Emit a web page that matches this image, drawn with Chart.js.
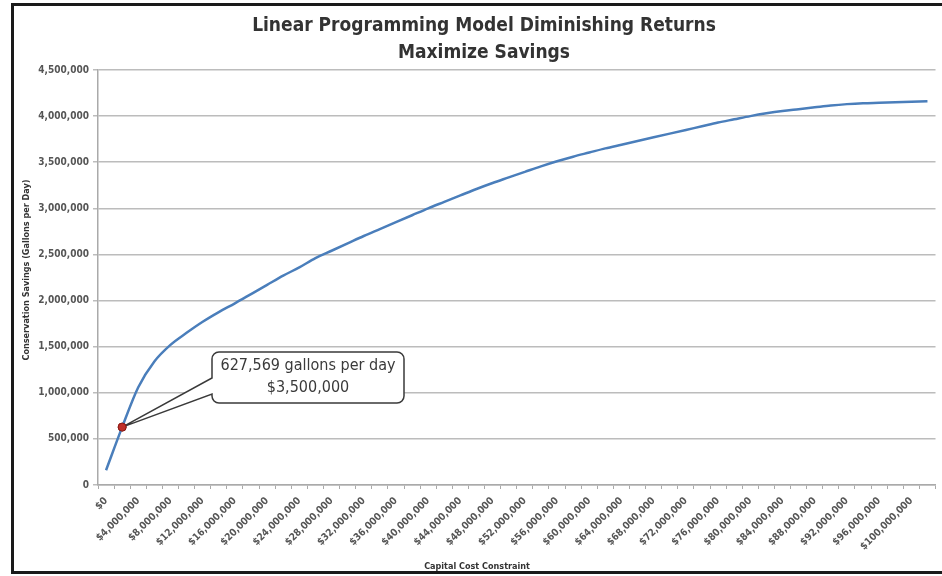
<!DOCTYPE html>
<html>
<head>
<meta charset="utf-8">
<script src="https://cdn.jsdelivr.net/npm/chart.js@4/dist/chart.umd.min.js"></script>
<style>
  html, body { margin: 0; padding: 0; background: #fff; }
  #wrap { position: relative; width: 942px; height: 576px; }
</style>
</head>
<body>
<div id="wrap"><canvas id="myChart"></canvas></div>
<script>
// capital cost constraint (categories, $)
var costs = [0, 2000000, 4000000, 6000000, 8000000, 10000000, 12000000, 14000000, 16000000, 18000000,
  20000000, 22000000, 24000000, 26000000, 28000000, 30000000, 32000000, 34000000, 36000000, 38000000,
  40000000, 42000000, 44000000, 46000000, 48000000, 50000000, 52000000, 54000000, 56000000, 58000000,
  60000000, 62000000, 64000000, 66000000, 68000000, 70000000, 72000000, 74000000, 76000000, 78000000,
  80000000, 82000000, 84000000, 86000000, 88000000, 90000000, 92000000, 94000000, 96000000, 98000000,
  100000000, 102000000];

// conservation savings (gallons per day)
var savings = [160000, 627569, 1060000, 1340000, 1520000, 1650000, 1770000, 1875000, 1970000, 2070000,
  2170000, 2270000, 2360000, 2460000, 2540000, 2620000, 2700000, 2775000, 2850000, 2925000,
  3000000, 3070000, 3140000, 3210000, 3275000, 3335000, 3395000, 3455000, 3510000, 3560000,
  3605000, 3650000, 3690000, 3730000, 3770000, 3810000, 3850000, 3890000, 3930000, 3965000,
  4000000, 4030000, 4055000, 4075000, 4095000, 4115000, 4130000, 4140000, 4145000, 4150000,
  4155000, 4160000];

// highlighted point + callout text
var markIndex = 1;
var markLines = ["627,569 gallons per day", "$3,500,000"];

var titleLines = ["Linear Programming Model Diminishing Returns", "Maximize Savings"];
var yTitle = "Conservation Savings (Gallons per Day)";
var xTitle = "Capital Cost Constraint";

var narrow = '"Liberation Sans Narrow", "DejaVu Sans Condensed", "Liberation Sans", sans-serif';

var markData = savings.map(function (v, i) { return i === markIndex ? v : null; });

function money(n) {
  return "$" + n.toLocaleString("en-US");
}

// frame, titles and callout
var decor = {
  id: "decor",
  beforeDraw: function (chart) {
    var c = chart.ctx;
    c.save();
    c.fillStyle = "#fff";
    c.fillRect(0, 0, chart.width, chart.height);
    c.restore();
  },
  afterDraw: function (chart) {
    var c = chart.ctx;
    c.save();
    // outer frame
    c.strokeStyle = "#1a1a1a";
    c.lineWidth = 3;
    c.beginPath();
    c.moveTo(942, 4.5); c.lineTo(12.5, 4.5); c.lineTo(12.5, 572.5); c.lineTo(942, 572.5);
    c.stroke();

    // chart title
    c.fillStyle = "#333";
    c.textAlign = "center";
    c.textBaseline = "middle";
    c.font = "bold 19px " + narrow;
    c.fillText(titleLines[0], 484, 26);
    c.fillText(titleLines[1], 484, 53);

    // axis titles
    c.font = "bold 9px " + narrow;
    c.fillText(xTitle, 477, 567);
    c.save();
    c.translate(27, 270);
    c.rotate(-Math.PI / 2);
    c.fillText(yTitle, 0, 0);
    c.restore();

    // callout
    var pt = chart.getDatasetMeta(1).data[markIndex];
    var bx = 212, by = 352, bw = 192, bh = 51, r = 7;
    c.beginPath();
    c.moveTo(bx + r, by);
    c.lineTo(bx + bw - r, by);
    c.arcTo(bx + bw, by, bx + bw, by + r, r);
    c.lineTo(bx + bw, by + bh - r);
    c.arcTo(bx + bw, by + bh, bx + bw - r, by + bh, r);
    c.lineTo(bx + r, by + bh);
    c.arcTo(bx, by + bh, bx, by + bh - r, r);
    c.lineTo(bx, by + 42);
    c.lineTo(pt.x, pt.y);
    c.lineTo(bx, by + 26);
    c.lineTo(bx, by + r);
    c.arcTo(bx, by, bx + r, by, r);
    c.closePath();
    c.fillStyle = "#fff";
    c.fill();
    c.strokeStyle = "#3a3a3a";
    c.lineWidth = 1.5;
    c.stroke();

    c.fillStyle = "#3a3a3a";
    c.font = "16px " + narrow;
    c.fillText(markLines[0], bx + bw / 2, by + 14);
    c.fillText(markLines[1], bx + bw / 2, by + 36);

    // redraw the marker above the pointer
    c.beginPath();
    c.arc(pt.x, pt.y, 4, 0, Math.PI * 2);
    c.fillStyle = "#c0302a";
    c.fill();
    c.strokeStyle = "#8a1c16";
    c.lineWidth = 1;
    c.stroke();
    c.restore();
  }
};

var ctx = document.getElementById("myChart");
var config = {
  type: "line",
  data: {
    labels: costs,
    datasets: [
      {
        label: "Savings",
        data: savings,
        borderColor: "#4a7ebb",
        borderWidth: 2.5,
        pointRadius: 0,
        cubicInterpolationMode: "monotone",
        fill: false
      },
      {
        label: "Selected",
        data: markData,
        borderColor: "#8a1c16",
        backgroundColor: "#c0302a",
        pointRadius: 4,
        showLine: false
      }
    ]
  },
  options: {
    responsive: true,
    maintainAspectRatio: false,
    animation: false,
    layout: {
      padding: { top: 70, left: 16, right: 0, bottom: 4 }
    },
    plugins: {
      legend: { display: false },
      tooltip: { enabled: false },
      title: { display: false }
    },
    scales: {
      x: {
        type: "category",
        offset: true,
        afterFit: function (scale) { scale.height = 87; },
        grid: {
          offset: true,
          drawOnChartArea: false,
          tickLength: 4,
          color: "#aaa"
        },
        border: { color: "#aaa", width: 1.5 },
        ticks: {
          autoSkip: false,
          minRotation: 45,
          maxRotation: 45,
          padding: 6,
          color: "#555",
          font: { size: 10, weight: "bold", family: narrow },
          callback: function (v, i) {
            return i % 2 === 0 ? money(costs[i]) : "";
          }
        }
      },
      y: {
        min: 0,
        max: 4500000,
        afterFit: function (scale) { scale.width = 82; },
        grid: {
          color: "#bcbcbc",
          lineWidth: 1.5,
          tickLength: 5
        },
        border: { color: "#aaa", width: 1.5 },
        ticks: {
          stepSize: 500000,
          padding: 4,
          color: "#555",
          font: { size: 10, weight: "bold", family: narrow },
          callback: function (v) { return v.toLocaleString("en-US"); }
        }
      }
    }
  },
  plugins: [decor]
};

var myChart = new Chart(ctx, config);
</script>
</body>
</html>
